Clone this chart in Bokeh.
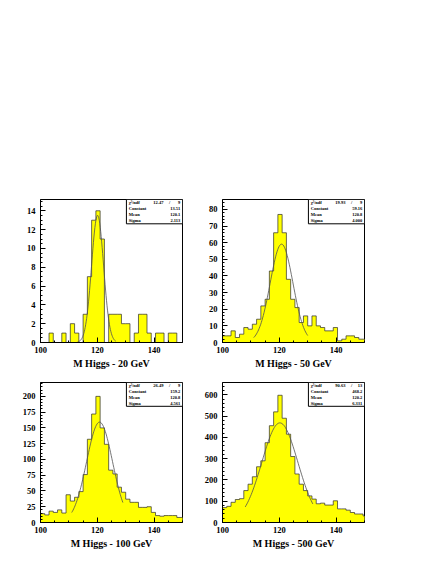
import numpy as np
from bokeh.plotting import figure
from bokeh.layouts import column, row
from bokeh.models import Spacer, FixedTicker, Range1d, Title
from bokeh.embed import file_html
from bokeh.resources import INLINE
from bokeh.core.properties import value

# ---------------- data ----------------
bin_start = 100.0
bin_width = 1.5
x_tick_values = [100, 120, 140]

counts_20 = [0, 0, 1, 0, 0, 1, 0, 2, 1, 0, 3, 7, 13, 14, 11, 0, 3, 3, 3, 2, 2, 0, 1, 3, 3, 1, 0, 1, 1, 0, 1, 1, 0, 0]
counts_50 = [4, 4, 7, 3, 5, 9, 8, 11, 14, 22, 26, 43, 66, 77, 66, 38, 26, 21, 12, 16, 10, 16, 10, 9, 7, 7, 9, 1, 2, 4, 4, 3, 2, 2]
counts_100 = [14, 12, 18, 16, 20, 15, 44, 34, 40, 49, 76, 132, 172, 200, 150, 124, 83, 77, 56, 48, 37, 32, 32, 24, 24, 25, 16, 11, 10, 11, 11, 11, 8, 8]
counts_500 = [70, 76, 95, 108, 112, 150, 180, 215, 262, 290, 375, 455, 520, 598, 490, 415, 310, 228, 180, 150, 125, 110, 88, 91, 82, 82, 102, 64, 64, 58, 47, 40, 40, 31]

titles = ["M Higgs - 20 GeV", "M Higgs - 50 GeV", "M Higgs - 100 GeV", "M Higgs - 500 GeV"]
chi2_text = ["12.47", "19.93", "26.49", "90.63"]
ndf_text = ["9", "9", "9", "13"]
fit_const = [13.51, 59.16, 159.2, 468.2]
fit_mean = [120.1, 120.8, 120.8, 120.2]
fit_sigma = [2.113, 4.000, 4.561, 6.331]
const_text = ["13.51", "59.16", "159.2", "468.2"]
mean_text = ["120.1", "120.8", "120.8", "120.2"]
sigma_text = ["2.113", "4.000", "4.561", "6.331"]
fit_lo = [113.0, 111.0, 111.0, 108.0]
fit_hi = [126.5, 130.0, 129.0, 131.8]
y_tops = [15.2, 86.0, 222.0, 658.0]
y_major = [list(range(0, 15, 2)), list(range(0, 81, 10)), list(range(0, 201, 25)), list(range(0, 601, 100))]
y_minor_step = [0.5, 2, 5, 20]

all_counts = [counts_20, counts_50, counts_100, counts_500]

FONT = "Liberation Serif"
YELLOW = "#ffff00"


def make_panel(i, border_left, border_right, border_top, border_bottom, frame_h):
    counts = np.array(all_counts[i], dtype=float)
    n = len(counts)
    edges = bin_start + bin_width * np.arange(n + 1)
    x_end = 150.0
    p = figure(width=border_left + 142 + border_right, height=border_top + frame_h + border_bottom,
               x_range=Range1d(100, x_end), y_range=Range1d(0, y_tops[i]),
               output_backend="svg", toolbar_location=None, tools="",
               min_border_left=border_left, min_border_right=border_right,
               min_border_top=border_top, min_border_bottom=border_bottom)
    p.frame_width = 142
    p.frame_height = frame_h
    p.xgrid.visible = False
    p.ygrid.visible = False
    p.outline_line_color = "black"
    p.outline_line_width = 1
    p.background_fill_color = "white"
    p.border_fill_color = "white"

    # histogram outline (step polygon)
    xs = [edges[0]]
    ys = [0.0]
    for k in range(n):
        xs += [edges[k], edges[k + 1]]
        ys += [counts[k], counts[k]]
    xs.append(edges[-1])
    ys.append(0.0)
    p.patch(xs, ys, fill_color=YELLOW, line_color=None)
    p.line(xs, ys, line_color="#2b2b2b", line_width=0.7)

    # fitted gaussian
    xf = np.linspace(fit_lo[i], fit_hi[i], 80)
    yf = fit_const[i] * np.exp(-0.5 * ((xf - fit_mean[i]) / fit_sigma[i]) ** 2)
    p.line(xf, yf, line_color="#505050", line_width=0.8)

    # stats box
    yt = y_tops[i]
    bx0 = 100 + 0.605 * (x_end - 100)
    bw = x_end - bx0
    by0 = yt * (1 - 0.17)
    p.quad(left=[bx0], right=[x_end], bottom=[by0], top=[yt],
           fill_color="white", line_color="black", line_width=1)
    row_h = (yt - by0) / 4.0
    labels = ["\u03c7\u00b2/ndf", "Constant", "Mean", "Sigma"]
    ys_t = [yt - (k + 0.5) * row_h for k in range(4)]
    lx = bx0 + 0.04 * bw
    rx = x_end - 0.04 * bw
    txt = dict(text_font=value(FONT), text_font_style="bold",
               text_font_size="4.5px", text_baseline="middle")
    p.text(x=[lx] * 4, y=ys_t, text=labels, text_align="left", **txt)
    p.text(x=[rx] * 3, y=ys_t[1:], text=[const_text[i], mean_text[i], sigma_text[i]],
           text_align="right", **txt)
    p.text(x=[bx0 + 0.66 * bw], y=[ys_t[0]], text=[chi2_text[i]], text_align="right", **txt)
    p.text(x=[bx0 + 0.77 * bw], y=[ys_t[0]], text=["/"], text_align="center", **txt)
    p.text(x=[rx], y=[ys_t[0]], text=[ndf_text[i]], text_align="right", **txt)

    # axes
    xminor = [v for v in np.arange(100, 150.01, 5).tolist() if v not in x_tick_values]
    p.xaxis.ticker = FixedTicker(ticks=x_tick_values, minor_ticks=xminor)
    ymin_list = np.arange(0, yt, y_minor_step[i]).tolist()
    p.yaxis.ticker = FixedTicker(ticks=y_major[i], minor_ticks=ymin_list)
    for ax in (p.xaxis[0], p.yaxis[0]):
        ax.axis_line_color = "black"
        ax.axis_line_width = 1
        ax.major_tick_in = 5
        ax.major_tick_out = 0
        ax.minor_tick_in = 2
        ax.minor_tick_out = 0
        ax.major_tick_line_color = "black"
        ax.minor_tick_line_color = "black"
        ax.major_label_text_font = FONT
        ax.major_label_text_font_style = "bold"
        ax.major_label_text_font_size = "8.5px"
        ax.major_label_text_color = "black"
    p.yaxis.major_label_standoff = 5
    p.xaxis.major_label_standoff = 4

    # histogram title under the axis, slightly to the right (ROOT style)
    p.add_layout(Title(text=titles[i], align="center", offset=14, standoff=0,
                       text_font=FONT, text_font_style="bold", text_font_size="10px",
                       text_color="black"), "below")
    return p


f1 = make_panel(0, 32, 8, 10, 30, 143)
f2 = make_panel(1, 32, 20, 10, 30, 143)
f3 = make_panel(2, 32, 8, 10, 30, 140)
f4 = make_panel(3, 32, 20, 10, 30, 140)

layout = row(Spacer(width=8, height=10),
             column(Spacer(height=189, width=10), row(f1, f2), row(f3, f4)))

open("out.html", "w").write(file_html(layout, INLINE))
